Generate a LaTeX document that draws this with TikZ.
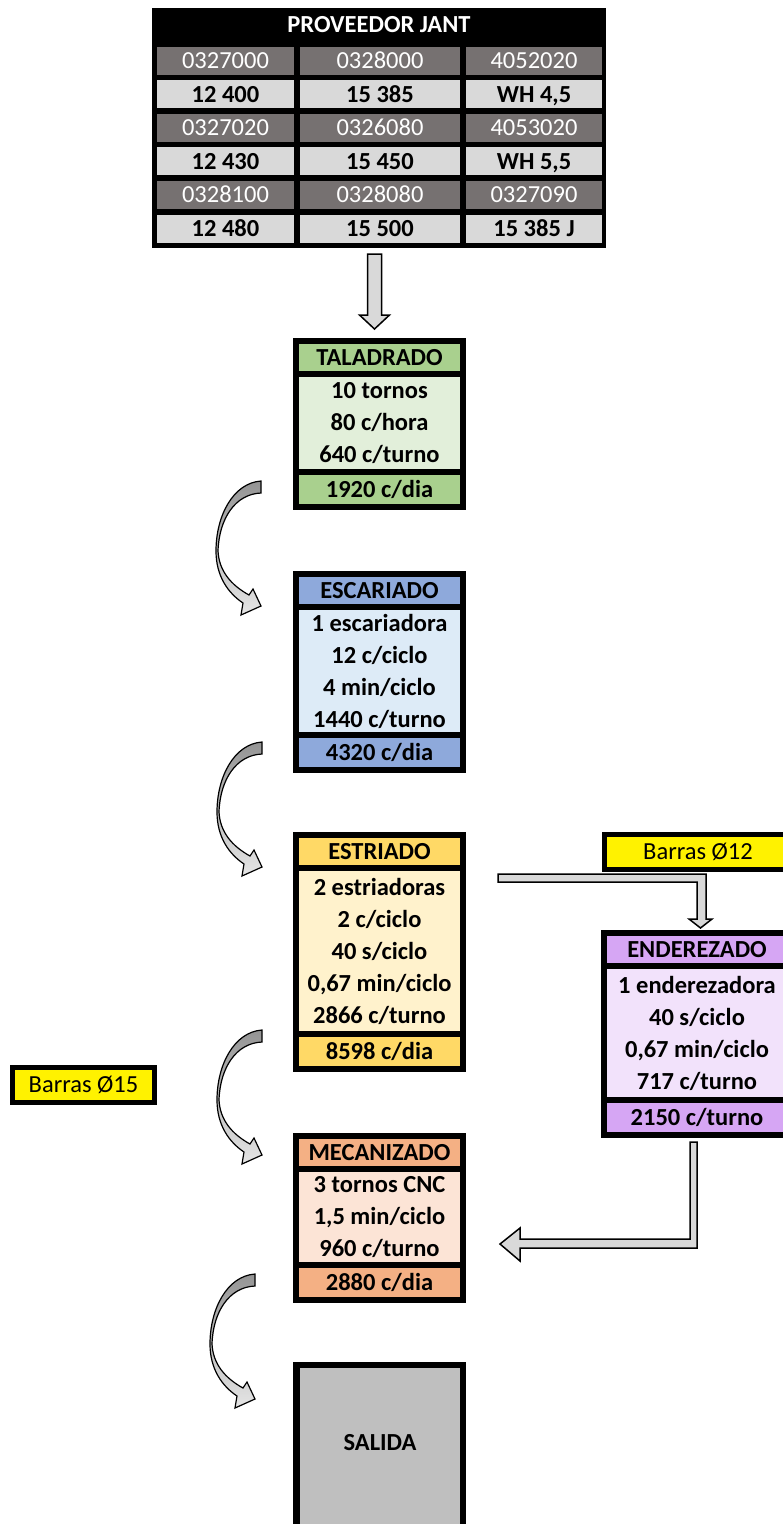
\documentclass[tikz,border=0pt]{standalone}
\usepackage{fontspec}
\setmainfont{Carlito}
\usetikzlibrary{calc}
\definecolor{tabgray}{HTML}{767171}
\definecolor{tablight}{HTML}{D9D9D9}
\definecolor{taldark}{HTML}{A9D08E}
\definecolor{tallight}{HTML}{E2EFDA}
\definecolor{escdark}{HTML}{8EA9DB}
\definecolor{esclight}{HTML}{DDEBF7}
\definecolor{estdark}{HTML}{FFD966}
\definecolor{estlight}{HTML}{FFF2CC}
\definecolor{mecdark}{HTML}{F4B084}
\definecolor{meclight}{HTML}{FCE4D6}
\definecolor{enddark}{HTML}{D6A6F4}
\definecolor{endlight}{HTML}{F2E2FB}
\definecolor{salgray}{HTML}{BFBFBF}
\definecolor{arrgray}{HTML}{D9D9D9}
\tikzset{
  every node/.style={inner sep=0pt, outer sep=0pt},
  boxfont/.style={font=\fontsize{24.5}{32}\selectfont\bfseries},
  outerbox/.style={fill=black, anchor=north},
  bandcell/.style={boxfont, anchor=north, text height=19.8, text depth=4},
  bodycell/.style={boxfont, anchor=north, align=center},
  tabcell/.style={font=\fontsize{24.5}{28}\selectfont, anchor=north, minimum height=28, text height=19.8, text depth=4},
  graycell/.style={tabcell, fill=tabgray, text=white},
  lightcell/.style={tabcell, fill=tablight, font=\fontsize{24.5}{28}\selectfont\bfseries},
  barbox/.style={draw=black, line width=5, fill=yellow, font=\fontsize{24.5}{28}\selectfont, text height=19.8, text depth=4},
  blockarr/.style={draw=black, line width=1.5, fill=arrgray, line join=miter},
  curvarr/.pic={
    \shadedraw[top color=black!42, bottom color=black!10, draw=black, line width=1.2]
      (0,0) .. controls (-28,2) and (-45,35) .. (-45,70)
      .. controls (-45,95) and (-33,112) .. (-18,122)
      -- (-20,134) -- (0,125) -- (-8,108) -- (-12,114)
      .. controls (-30,104) and (-42,90) .. (-43,70)
      .. controls (-42,38) and (-26,13) .. (0,12) -- cycle;
  }
}
\def\bw{173}\def\iw{161}
% #1 name, #2 x centre, #3 top, #4 bottom, #5 dark, #6 light, #7 title, #8 body, #9 footer
\newcommand\procbox[9]{%
  \node[outerbox, minimum width=\bw, minimum height=#4-#3] (#1) at (#2,#3) {};
  \node[bandcell, fill=#5, minimum width=\iw, minimum height=27] (#1-h) at (#2,#3+6) {#7};
  \node[bodycell, fill=#6, minimum width=\iw, minimum height=#4-#3-80] (#1-b) at (#2,#3+39) {#8};
  \node[bandcell, fill=#5, minimum width=\iw, minimum height=29] (#1-f) at (#2,#4-35) {#9};
}
\begin{document}
\begin{tikzpicture}[x=1pt, y=-1pt]
\useasboundingbox (0,0) rectangle (783,1524);
\fill[white] (0,0) rectangle (783,1524);

% ---------- supplier table ----------
\node[fill=black, anchor=north west, minimum width=454, minimum height=240] (prov) at (152,8) {};
\node[tabcell, fill=black, text=white, font=\fontsize{24.5}{28}\selectfont\bfseries, minimum width=440] (prov-h) at (379,11) {PROVEEDOR JANT};
\node[graycell, minimum width=137] (c11) at (225.5,46.5) {0327000};
\node[graycell, minimum width=160] (c12) at (380,46.5) {0328000};
\node[graycell, minimum width=136] (c13) at (534,46.5) {4052020};
\node[lightcell, minimum width=137] (c21) at (225.5,80.1) {12 400};
\node[lightcell, minimum width=160] (c22) at (380,80.1) {15 385};
\node[lightcell, minimum width=136] (c23) at (534,80.1) {WH 4,5};
\node[graycell, minimum width=137] (c31) at (225.5,113.7) {0327020};
\node[graycell, minimum width=160] (c32) at (380,113.7) {0326080};
\node[graycell, minimum width=136] (c33) at (534,113.7) {4053020};
\node[lightcell, minimum width=137] (c41) at (225.5,147.3) {12 430};
\node[lightcell, minimum width=160] (c42) at (380,147.3) {15 450};
\node[lightcell, minimum width=136] (c43) at (534,147.3) {WH 5,5};
\node[graycell, minimum width=137] (c51) at (225.5,180.9) {0328100};
\node[graycell, minimum width=160] (c52) at (380,180.9) {0328080};
\node[graycell, minimum width=136] (c53) at (534,180.9) {0327090};
\node[lightcell, minimum width=137] (c61) at (225.5,214.5) {12 480};
\node[lightcell, minimum width=160] (c62) at (380,214.5) {15 500};
\node[lightcell, minimum width=136] (c63) at (534,214.5) {15 385 J};

% ---------- process boxes ----------
\procbox{tal}{379.5}{338}{510}{taldark}{tallight}{TALADRADO}{10 tornos\\80 c/hora\\640 c/turno}{1920 c/dia}
\procbox{esc}{379.5}{571}{773}{escdark}{esclight}{ESCARIADO}{1 escariadora\\12 c/ciclo\\4 min/ciclo\\1440 c/turno}{4320 c/dia}
\procbox{estr}{379.5}{832}{1072}{estdark}{estlight}{ESTRIADO}{2 estriadoras\\2 c/ciclo\\40 s/ciclo\\0,67 min/ciclo\\2866 c/turno}{8598 c/dia}
\procbox{mec}{379.5}{1133}{1303}{mecdark}{meclight}{MECANIZADO}{3 tornos CNC\\1,5 min/ciclo\\960 c/turno}{2880 c/dia}
\def\bw{192}\def\iw{180}
\procbox{ender}{697}{930}{1138}{enddark}{endlight}{ENDEREZADO}{1 enderezadora\\40 s/ciclo\\0,67 min/ciclo\\717 c/turno}{2150 c/turno}

% ---------- exit ----------
\node[outerbox, minimum width=173, minimum height=180] (sal) at (379.5,1362) {};
\node[fill=salgray, anchor=north, minimum width=160, minimum height=172] (sal-i) at (380,1368) {};
\node[boxfont, text height=19.8, text depth=4, anchor=center] (sal-t) at (380,1443) {SALIDA};

% ---------- bar stock labels ----------
\node[barbox, minimum width=187, minimum height=35] (b12) at (698,852) {Barras Ø12};
\node[barbox, minimum width=142, minimum height=35] (b15) at (83.5,1085) {Barras Ø15};

% ---------- block arrows ----------
\draw[blockarr] ($(prov.south)+(-11.5,6)$) -- ++(14,0) -- ++(0,61) -- ++(8,0)
  -- ++(-15,14) -- ++(-15,-14) -- ++(8,0) -- cycle;
\draw[blockarr] ($(estr.north east)+(32,42)$) -- ++(208,0) -- ++(0,45) -- ++(6,0)
  -- ++(-11.5,9) -- ++(-11.5,-9) -- ++(8,0) -- ++(0,-37) -- ++(-199,0) -- cycle;
\draw[blockarr] ($(ender.south)+(-7,4)$) -- ++(7,0) -- ++(0,106) -- ++(-177,0)
  -- ++(0,13) -- ++(-20,-17) -- ++(20,-16) -- ++(0,11) -- ++(170,0) -- cycle;

% ---------- curved flow arrows ----------
\pic (ca1) at ($(tal.south west)+(-32,-29)$) {curvarr};
\pic (ca2) at ($(esc.south west)+(-31,-31)$) {curvarr};
\pic (ca3) at ($(estr.south west)+(-31,-42)$) {curvarr};
\pic (ca4) at ($(mec.south west)+(-38,-29)$) {curvarr};
\end{tikzpicture}
\end{document}
